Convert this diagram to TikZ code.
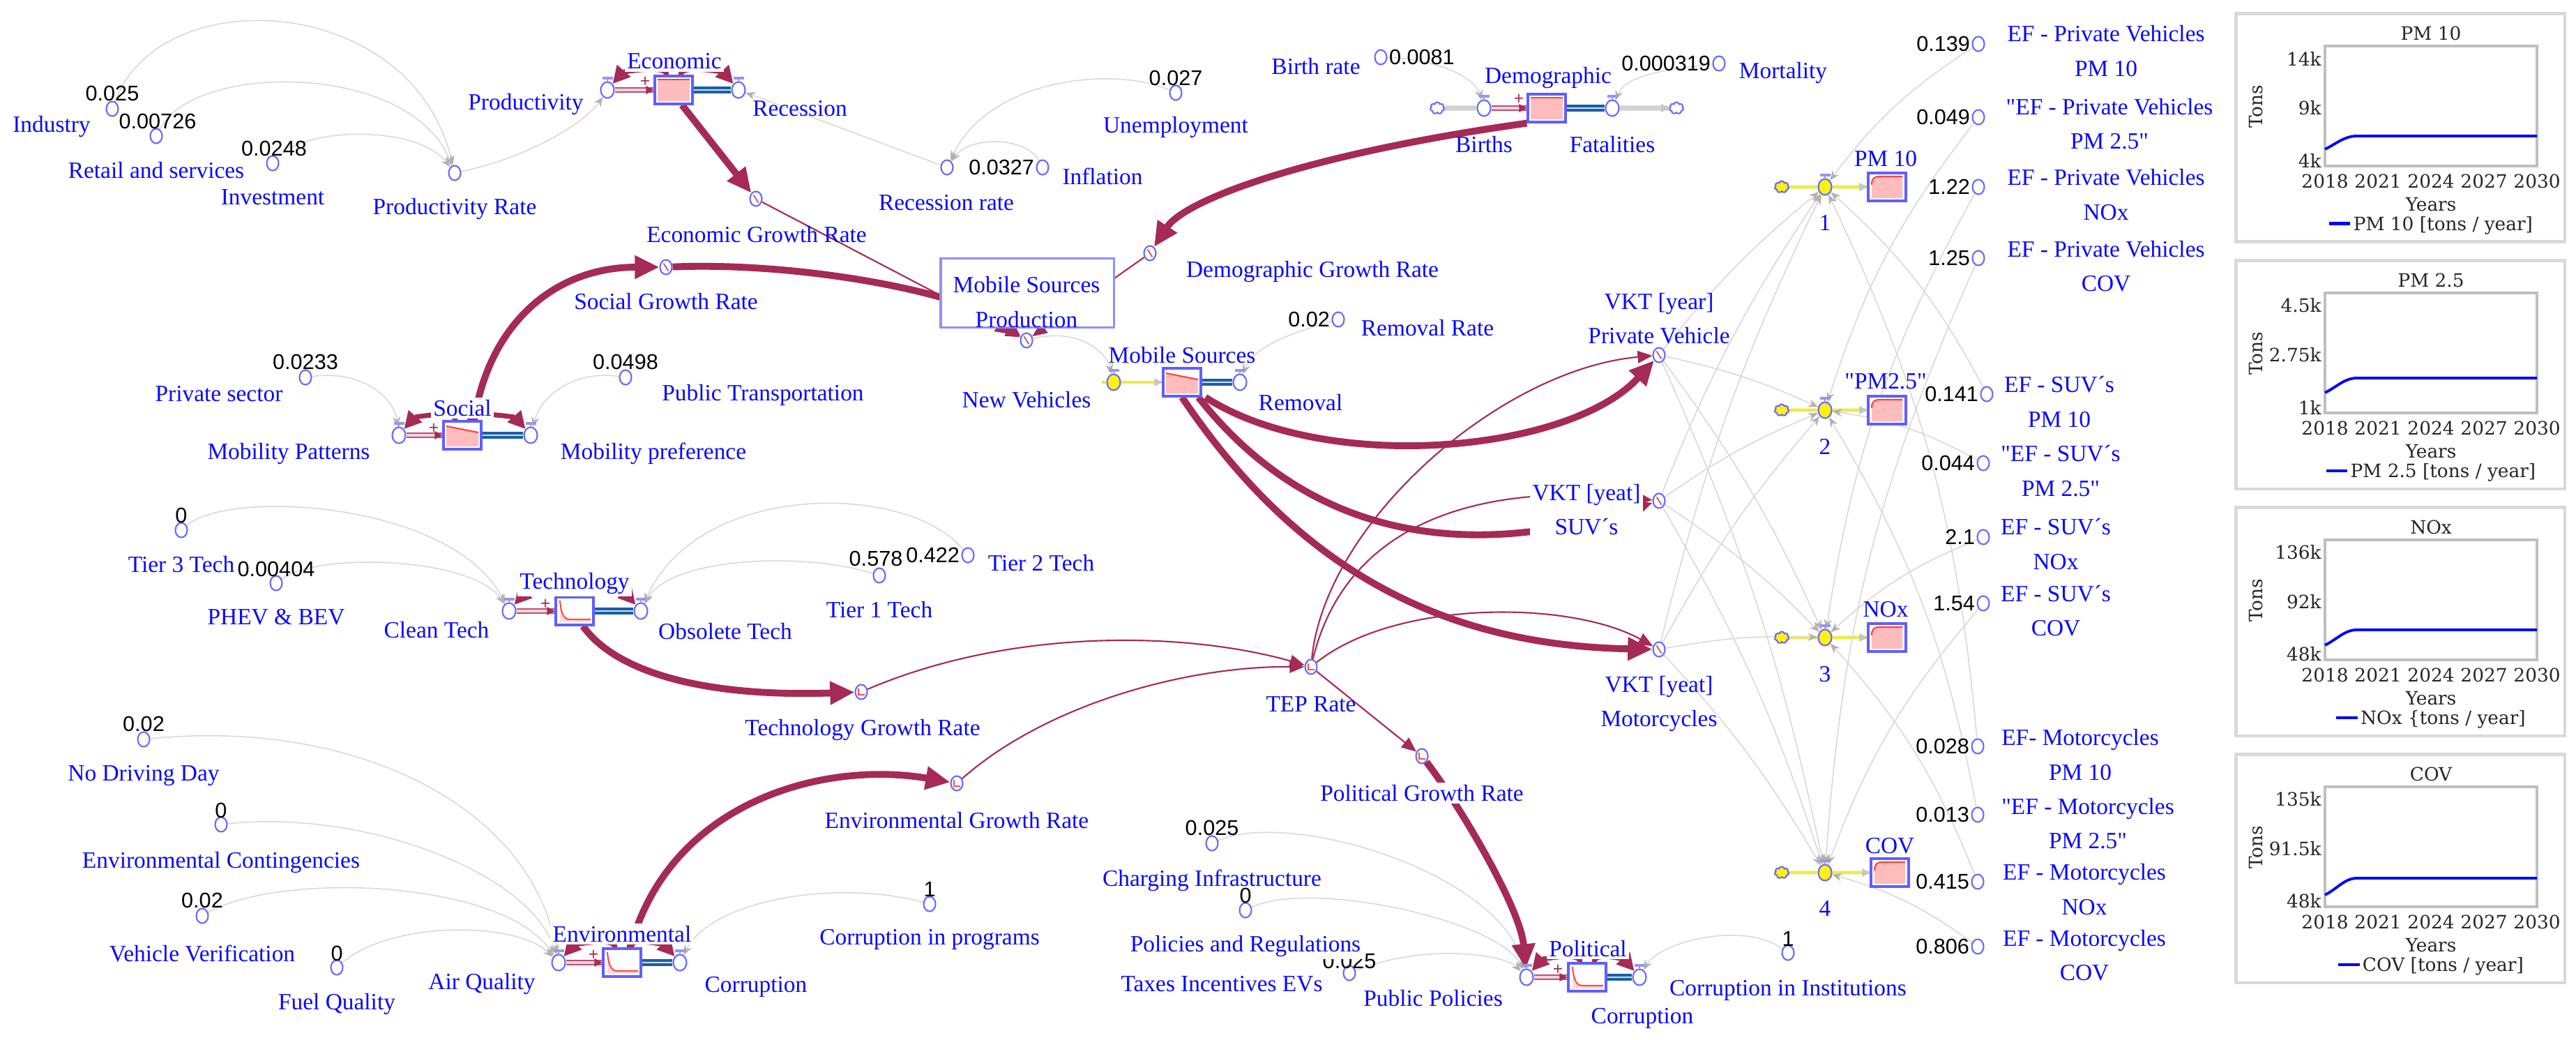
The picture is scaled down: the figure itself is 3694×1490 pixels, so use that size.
\documentclass[tikz,border=0pt]{standalone}
\usepackage{fontspec}
\setmainfont{Liberation Serif}
\newfontfamily\lblff{Liberation Serif}
\newfontfamily\numff{Liberation Sans}
\newfontfamily\chartff{DejaVu Serif}
\usetikzlibrary{arrows.meta,shapes.geometric,shapes.symbols,calc}
\pgfdeclarelayer{back}
\pgfdeclarelayer{bg}
\pgfsetlayers{back,bg,main}
\definecolor{convred}{RGB}{165,42,85}
\definecolor{lblblue}{RGB}{10,10,250}
\definecolor{auxblue}{RGB}{105,105,255}
\definecolor{stockpink}{RGB}{255,188,188}
\definecolor{stockborder}{RGB}{95,95,255}
\definecolor{pipeblue}{RGB}{25,95,165}
\definecolor{pipered}{RGB}{190,80,115}
\definecolor{yel}{RGB}{255,240,20}
\definecolor{ypipecol}{RGB}{235,235,70}
\definecolor{handlecol}{RGB}{150,150,235}
\tikzset{
 lbl/.style={text=lblblue, font=\lblff\fontsize{9.5}{14}\selectfont, inner sep=1pt, align=center},
 lblw/.style={lbl, fill=white},
 num/.style={text=black, font=\numff\fontsize{8.7}{10}\selectfont, inner sep=0.5pt},
 auxnode/.style={ellipse, draw=auxblue, fill=white, line width=0.6pt, minimum width=0.17cm, minimum height=0.21cm, inner sep=0},
 valvenode/.style={ellipse, draw=auxblue, line width=0.6pt, minimum width=0.19cm, minimum height=0.23cm, inner sep=0},
 stockbox/.style={rectangle, draw=stockborder, line width=0.9pt, fill=white, minimum width=0.54cm, minimum height=0.40cm, inner sep=0},
 cloudsh/.style={cloud, cloud puffs=7, aspect=1.2, draw=auxblue, line width=0.6pt, minimum width=0.2cm, minimum height=0.17cm, inner sep=0},
 lnk/.style={draw=gray!30, line width=0.45pt, -{Stealth[length=4pt,width=3.2pt,color=gray!60]}},
 rthick/.style={draw=convred, line width=2.8pt, -{Triangle[length=10pt,width=9pt]}},
 rthin/.style={draw=convred, line width=0.6pt, -{Triangle[length=6pt,width=5pt]}},
 rfb/.style={draw=convred, line width=2pt, -{Triangle[length=7pt,width=7pt]}},
 inpipe/.style={draw=pipered, line width=0.6pt, double=pipered!25, double distance=0.9pt},
 outpipe/.style={draw=pipeblue, line width=1pt, double=pipeblue!20, double distance=0.8pt},
 ypipe/.style={draw=ypipecol, line width=1.3pt},
 plussign/.style={text=convred, font=\numff\fontsize{7}{7}\selectfont, inner sep=0},
 charttxt/.style={font=\chartff\fontsize{7.5}{9}\selectfont, text=black!85, inner sep=0.5pt},
}
\newcommand\mkvalve[4]{%
  \node[valvenode, fill=#4] (#1) at (#2,#3) {};
  \draw[handlecol, line width=0.6pt] (#1.north) -- ($(#1.north)+(0,0.03cm)$);
  \fill[handlecol] ($(#1.north)+(-0.075cm,0.025cm)$) rectangle ($(#1.north)+(0.075cm,0.06cm)$);
}
\newcommand\mkstock[4]{%
  \node[stockbox] (#1) at (#2,#3) {};
  \begin{scope}[shift={(#2,#3)}]
  \ifcase#4\relax
    \fill[stockpink] (-23,-15) rectangle (23,16);
    \draw[red!75, line width=0.7pt] (-23,-15) -- (23,-15);
  \or
    \fill[stockpink] (-23,-13) -- (23,-4) -- (23,16) -- (-23,16) -- cycle;
    \draw[red!75, line width=0.6pt] (-23,-13) -- (23,-4);
  \or
    \fill[stockpink!55] (-21,-15) .. controls (-19,8) and (-14,12) .. (-6,12) -- (23,12) -- (23,16) -- (-21,16) -- cycle;
    \draw[red!70, line width=0.6pt] (-21,-15) .. controls (-19,8) and (-14,12) .. (-6,12) -- (23,12);
  \else
    \fill[stockpink] (-22,-3) .. controls (-22,-13) and (-18,-15) .. (-10,-15) -- (22,-15) -- (22,16) -- (-22,16) -- cycle;
    \draw[red!75, line width=0.6pt] (-22,-3) .. controls (-22,-13) and (-18,-15) .. (-10,-15) -- (22,-15);
  \fi
  \end{scope}
}
\newcommand\sdInhead[2]{\fill[#2] (#1.west) -- ++(-0.11cm,0.06cm) -- ++(0,-0.12cm) -- cycle;}
\newcommand\sdFb[3]{%
  \draw[rfb] ([xshift=-0.1cm]#1.north) .. controls +(0,0.16cm) and +(0.14cm,0.16cm) .. (#2.north east);
  \draw[rfb] ([xshift=0.1cm]#1.north) .. controls +(0,0.16cm) and +(-0.14cm,0.16cm) .. (#3.north west);
}
\newcommand\mkchart[9]{%
  \node[draw=gray!30, line width=1.2pt, minimum width=4.71cm, minimum height=3.27cm, inner sep=0] (#1) at (3442,{#2+163}) {};
  \draw[gray!50, line width=1pt] (3334,{#2+46}) rectangle (3638,{#2+218});
  \node[charttxt] (#1t) at (3486,{#2+28}) {#3};
  \node[charttxt, anchor=east] (#1a) at (3331,{#2+64}) {#4};
  \node[charttxt, anchor=east] (#1b) at (3331,{#2+135}) {#5};
  \node[charttxt, anchor=east] (#1c) at (3331,{#2+210}) {#6};
  \foreach \k/\yr in {0/2018,1/2021,2/2024,3/2027,4/2030}
    \node[charttxt] (#1y\k) at ({3334+76*\k},{#2+240}) {\yr};
  \node[charttxt] (#1x) at (3486,{#2+273}) {Years};
  \node[charttxt, rotate=90] (#1v) at (3235,{#2+133}) {Tons};
  \node[charttxt] (#1l) at (3486,{#2+303}) {\textcolor{blue}{\rule[0.28em]{1.15em}{1.2pt}}\,#7};
  \draw[blue, line width=1.1pt] (3334,{#2+#8}) .. controls (3352,{#2+#8-9}) and (3362,{#2+#9}) .. (3380,{#2+#9}) -- (3638,{#2+#9});
}
\begin{document}
\begin{tikzpicture}[x=0.01cm, y=-0.01cm]
\useasboundingbox (0,0) rectangle (3694,1490);
\begin{pgfonlayer}{back}
\fill[white] (0,0) rectangle (3694,1490);
\end{pgfonlayer}

% ---------- Economic ----------
\mkstock{Estk}{966}{129}{0}
\mkvalve{Ev1}{871}{129}{white}
\mkvalve{Ev2}{1059}{129}{white}
\node[lblw] (tEcon) at (967,88) {Economic};
\node[plussign] (pE) at (925,117) {+};
\node[lbl] (tProd) at (754,150) {Productivity};
\node[lbl] (tRec) at (1147,156) {Recession};
\node[auxnode] (PR) at (652,248) {};
\node[lbl] (tPR) at (652,300) {Productivity Rate};
\node[auxnode] (aInd) at (161,156) {};
\node[num] (nInd) at (161,134) {0.025};
\node[lbl] (tInd) at (74,182) {Industry};
\node[auxnode] (aRet) at (224,195) {};
\node[num] (nRet) at (226,174) {0.00726};
\node[lbl] (tRet) at (224,244) {Retail and services};
\node[auxnode] (aInv) at (391,234) {};
\node[num] (nInv) at (393,213) {0.0248};
\node[lbl] (tInv) at (391,283) {Investment};
\node[auxnode] (RR) at (1358,240) {};
\node[lbl] (tRR) at (1357,291) {Recession rate};
\node[auxnode] (aInfl) at (1495,240) {};
\node[num, anchor=east] (nInfl) at (aInfl.west) {0.0327};
\node[lbl] (tInfl) at (1581,253) {Inflation};
\node[auxnode] (aUne) at (1686,133) {};
\node[num] (nUne) at (1686,112) {0.027};
\node[lbl] (tUne) at (1686,183) {Unemployment};
\node[auxnode] (EGR) at (1084,285) {};
\node[lbl] (tEGR) at (1085,336) {Economic Growth Rate};

% ---------- Demographic ----------
\mkstock{Dstk}{2218}{155}{0}
\mkvalve{Dv1}{2128}{155}{white}
\mkvalve{Dv2}{2312}{155}{white}
\node[cloudsh, fill=white] (Dc1) at (2061,155) {};
\node[cloudsh, fill=white] (Dc2) at (2404,155) {};
\node[lblw] (tDem) at (2220,112) {Demographic};
\node[plussign] (pD) at (2178,142) {+};
\node[lbl] (tBir) at (2128,207) {Births};
\node[lbl] (tFat) at (2312,207) {Fatalities};
\node[auxnode] (aBr) at (1980,82) {};
\node[num, anchor=west] (nBr) at (aBr.east) {0.0081};
\node[lbl] (tBr) at (1887,95) {Birth rate};
\node[auxnode] (aMo) at (2465,91) {};
\node[num, anchor=east] (nMo) at (aMo.west) {0.000319};
\node[lbl] (tMo) at (2557,105) {Mortality};
\node[auxnode] (DGR) at (1649,363) {};
\node[lbl] (tDGR) at (1882,390) {Demographic Growth Rate};

% ---------- Mobile sources ----------
\node[draw=stockborder!70, line width=0.9pt, fill=white, minimum width=2.48cm, minimum height=0.99cm, inner sep=0] (MSP) at (1473,420) {};
\node[lbl] (tMSP) at (1472,433) {Mobile Sources\\Production};
\node[auxnode] (NV) at (1472,488) {};
\node[lbl] (tNV) at (1472,573) {New Vehicles};
\mkstock{Mstk}{1695}{548}{1}
\mkvalve{Mv1}{1597}{548}{yel}
\mkvalve{Mv2}{1778}{548}{white}
\coordinate (Msrc) at (1580,548);
\node[lbl] (tMS) at (1695,509) {Mobile Sources};
\node[lbl] (tRem) at (1865,577) {Removal};
\node[auxnode] (aRem) at (1919,458) {};
\node[num, anchor=east] (nRem) at (aRem.west) {0.02};
\node[lbl] (tRemR) at (2047,470) {Removal Rate};

% ---------- Social ----------
\mkstock{Sstk}{663}{624}{1}
\mkvalve{Sv1}{572}{624}{white}
\mkvalve{Sv2}{761}{624}{white}
\node[lblw] (tSoc) at (663,585) {Social};
\node[plussign] (pS) at (622,614) {+};
\node[lbl] (tMP) at (414,650) {Mobility Patterns};
\node[lbl] (tMPr) at (937,650) {Mobility preference};
\node[auxnode] (aPS) at (438,541) {};
\node[num] (nPS) at (438,519) {0.0233};
\node[lbl] (tPS) at (314,565) {Private sector};
\node[auxnode] (aPT) at (897,541) {};
\node[num] (nPT) at (897,519) {0.0498};
\node[lbl] (tPT) at (1094,566) {Public Transportation};
\node[auxnode] (SGR) at (955,383) {};
\node[lbl] (tSGR) at (955,432) {Social Growth Rate};

% ---------- Technology ----------
\mkstock{Tstk}{824}{876}{2}
\mkvalve{Tv1}{730}{876}{white}
\mkvalve{Tv2}{919}{876}{white}
\node[lblw] (tTec) at (824,836) {Technology};
\node[plussign] (pT) at (782,866) {+};
\node[lbl] (tCT) at (626,903) {Clean Tech};
\node[lbl] (tOT) at (1040,905) {Obsolete Tech};
\node[auxnode] (aT3) at (260,760) {};
\node[num] (nT3) at (260,739) {0};
\node[lbl] (tT3) at (260,809) {Tier 3 Tech};
\node[auxnode] (aPH) at (396,836) {};
\node[num] (nPH) at (396,816) {0.00404};
\node[lbl] (tPH) at (396,885) {PHEV \& BEV};
\node[auxnode] (aT1) at (1261,825) {};
\node[num] (nT1) at (1256,801) {0.578};
\node[lbl] (tT1) at (1261,874) {Tier 1 Tech};
\node[auxnode] (aT2) at (1388,796) {};
\node[num, anchor=east] (nT2) at (aT2.west) {0.422};
\node[lbl] (tT2) at (1493,807) {Tier 2 Tech};
\node[auxnode] (TGR) at (1235,992) {};
\node[lbl] (tTGR) at (1237,1046) {Technology Growth Rate};

% ---------- Environmental ----------
\mkstock{Enstk}{892}{1380}{2}
\mkvalve{Env1}{801}{1380}{white}
\mkvalve{Env2}{975}{1380}{white}
\node[lblw] (tEnv) at (892,1339) {Environmental};
\node[plussign] (pEn) at (851,1369) {+};
\node[lbl] (tAQ) at (691,1410) {Air Quality};
\node[lbl] (tCor1) at (1084,1415) {Corruption};
\node[auxnode] (aND) at (206,1060) {};
\node[num] (nND) at (206,1038) {0.02};
\node[lbl] (tND) at (206,1112) {No Driving Day};
\node[auxnode] (aEC) at (317,1182) {};
\node[num] (nEC) at (317,1162) {0};
\node[lbl] (tEC) at (317,1236) {Environmental Contingencies};
\node[auxnode] (aVV) at (290,1313) {};
\node[num] (nVV) at (290,1291) {0.02};
\node[lbl] (tVV) at (290,1367) {Vehicle Verification};
\node[auxnode] (aFQ) at (483,1387) {};
\node[num] (nFQ) at (483,1367) {0};
\node[lbl] (tFQ) at (483,1439) {Fuel Quality};
\node[auxnode] (aCP) at (1333,1296) {};
\node[num] (nCP) at (1333,1275) {1};
\node[lbl] (tCP) at (1333,1347) {Corruption in programs};
\node[auxnode] (ENGR) at (1372,1123) {};
\node[lbl] (tENGR) at (1372,1176) {Environmental Growth Rate};

% ---------- Political ----------
\mkstock{Pstk}{2276}{1401}{2}
\mkvalve{Pv1}{2189}{1401}{white}
\mkvalve{Pv2}{2351}{1401}{white}
\node[lblw] (tPol) at (2277,1360) {Political};
\node[plussign] (pP) at (2234,1390) {+};
\node[lbl] (tPP) at (2055,1431) {Public Policies};
\node[lbl] (tCor2) at (2355,1460) {Corruption};
\node[auxnode] (aCI) at (2564,1366) {};
\node[num] (nCI) at (2564,1346) {1};
\node[lbl] (tCI) at (2564,1420) {Corruption in Institutions};
\node[auxnode] (aCh) at (1738,1209) {};
\node[num] (nCh) at (1738,1187) {0.025};
\node[lbl] (tCh) at (1738,1262) {Charging Infrastructure};
\node[auxnode] (aPoR) at (1786,1305) {};
\node[num] (nPoR) at (1786,1284) {0};
\node[auxnode] (aTax) at (1935,1395) {};
\node[num] (nTax) at (1935,1378) {0.025};
\node[lblw] (tPoR) at (1786,1356) {Policies and Regulations};
\node[lbl] (tTax) at (1752,1411) {Taxes Incentives EVs};
\node[auxnode] (PGR) at (2039,1084) {};
\node[lblw] (tPGR) at (2039,1137) {Political Growth Rate};
\node[auxnode] (TEP) at (1880,956) {};
\node[lbl] (tTEP) at (1880,1010) {TEP Rate};

% ---------- VKT ----------
\node[auxnode] (VKTp) at (2379,509) {};
\node[lbl] (tVKTp) at (2379,457) {VKT [year]\\Private Vehicle};
\node[auxnode] (VKTs) at (2379,718) {};
\node[lblw] (tVKTs) at (2275,731) {VKT [yeat]\\SUV´s};
\node[auxnode] (VKTm) at (2379,931) {};
\node[lbl] (tVKTm) at (2379,1009) {VKT [yeat]\\Motorcycles};

% ---------- Emission stocks ----------
\mkstock{PMa}{2706}{268}{3}
\mkvalve{Va}{2617}{268}{yel}
\node[cloudsh, fill=yel] (Ca) at (2555,268) {};
\node[lbl] (tPMa) at (2704,228) {PM 10};
\node[lbl] (kA) at (2617,319) {1};
\mkstock{PMb}{2706}{588}{3}
\mkvalve{Vb}{2617}{588}{yel}
\node[cloudsh, fill=yel] (Cb) at (2555,588) {};
\node[lbl] (tPMb) at (2704,547) {"PM2.5"};
\node[lbl] (kB) at (2617,640) {2};
\mkstock{NOx}{2706}{914}{3}
\mkvalve{Vc}{2617}{914}{yel}
\node[cloudsh, fill=yel] (Cc) at (2555,914) {};
\node[lbl] (tNOx) at (2704,874) {NOx};
\node[lbl] (kC) at (2617,967) {3};
\mkstock{COV}{2710}{1251}{3}
\mkvalve{Vd}{2617}{1251}{yel}
\node[cloudsh, fill=yel] (Cd) at (2555,1251) {};
\node[lbl] (tCOV) at (2710,1213) {COV};
\node[lbl] (kD) at (2617,1302) {4};

% ---------- Emission factors ----------
\node[auxnode] (aPV1) at (2837,63) {};
\node[num, anchor=east] (nPV1) at (aPV1.west) {0.139};
\node[lbl] (tPV1) at (3020,73) {EF - Private Vehicles\\PM 10};
\node[auxnode] (aPV2) at (2837,168) {};
\node[num, anchor=east] (nPV2) at (aPV2.west) {0.049};
\node[lbl] (tPV2) at (3025,178) {"EF - Private Vehicles\\PM 2.5"};
\node[auxnode] (aPV3) at (2837,268) {};
\node[num, anchor=east] (nPV3) at (aPV3.west) {1.22};
\node[lbl] (tPV3) at (3020,279) {EF - Private Vehicles\\NOx};
\node[auxnode] (aPV4) at (2837,370) {};
\node[num, anchor=east] (nPV4) at (aPV4.west) {1.25};
\node[lbl] (tPV4) at (3020,382) {EF - Private Vehicles\\COV};
\node[auxnode] (aSV1) at (2849,565) {};
\node[num, anchor=east] (nSV1) at (aSV1.west) {0.141};
\node[lbl] (tSV1) at (2953,576) {EF - SUV´s\\PM 10};
\node[auxnode] (aSV2) at (2844,664) {};
\node[num, anchor=east] (nSV2) at (aSV2.west) {0.044};
\node[lbl] (tSV2) at (2955,675) {"EF - SUV´s\\PM 2.5"};
\node[auxnode] (aSV3) at (2844,770) {};
\node[num, anchor=east] (nSV3) at (aSV3.west) {2.1};
\node[lbl] (tSV3) at (2948,780) {EF - SUV´s\\NOx};
\node[auxnode] (aSV4) at (2844,865) {};
\node[num, anchor=east] (nSV4) at (aSV4.west) {1.54};
\node[lbl] (tSV4) at (2948,876) {EF - SUV´s\\COV};
\node[auxnode] (aMC1) at (2836,1070) {};
\node[num, anchor=east] (nMC1) at (aMC1.west) {0.028};
\node[lbl] (tMC1) at (2983,1082) {EF- Motorcycles\\PM 10};
\node[auxnode] (aMC2) at (2836,1168) {};
\node[num, anchor=east] (nMC2) at (aMC2.west) {0.013};
\node[lbl] (tMC2) at (2994,1181) {"EF - Motorcycles\\PM 2.5"};
\node[auxnode] (aMC3) at (2836,1264) {};
\node[num, anchor=east] (nMC3) at (aMC3.west) {0.415};
\node[lbl] (tMC3) at (2989,1275) {EF - Motorcycles\\NOx};
\node[auxnode] (aMC4) at (2836,1357) {};
\node[num, anchor=east] (nMC4) at (aMC4.west) {0.806};
\node[lbl] (tMC4) at (2989,1370) {EF - Motorcycles\\COV};

% ---------- Charts ----------
\mkchart{chA}{20}{PM 10}{14k}{9k}{4k}{PM 10 [tons / year]}{194}{175}
\mkchart{chB}{374}{PM 2.5}{4.5k}{2.75k}{1k}{PM 2.5 [tons / year]}{189}{168}
\mkchart{chC}{728}{NOx}{136k}{92k}{48k}{NOx \{tons / year]}{197}{175}
\mkchart{chD}{1082}{COV}{135k}{91.5k}{48k}{COV [tons / year]}{201}{177}

% ---------- marks inside auxiliaries ----------
\foreach \n in {EGR,SGR,DGR,NV,VKTp,VKTs,VKTm}
  \draw[convred!80, line width=0.5pt] ([shift={(-0.035cm,0.055cm)}]\n.center) -- ([shift={(0.035cm,-0.055cm)}]\n.center);
\foreach \n in {TGR,ENGR,TEP,PGR}
  \draw[red!70, line width=0.5pt] ([shift={(-0.04cm,0.05cm)}]\n.center) -- ([shift={(-0.04cm,-0.04cm)}]\n.center) -- ([shift={(0.05cm,-0.04cm)}]\n.center);

% inflow heads
\sdInhead{Estk}{convred}
\sdInhead{Dstk}{convred}
\sdInhead{Sstk}{convred}
\sdInhead{Tstk}{convred}
\sdInhead{Enstk}{convred}
\sdInhead{Pstk}{convred}
\sdInhead{Mstk}{gray!45}
\sdInhead{PMa}{gray!45}
\sdInhead{PMb}{gray!45}
\sdInhead{NOx}{gray!45}
\sdInhead{COV}{gray!45}
\sdInhead{Dc2}{gray!45}

% ---------- connectors (behind) ----------
\begin{pgfonlayer}{bg}
% pipes
\draw[inpipe] (Ev1) -- (Estk);
\draw[outpipe] (Estk) -- (Ev2);
\draw[gray!35, line width=2pt] (Dc1) -- (Dv1);
\draw[inpipe] (Dv1) -- (Dstk);
\draw[outpipe] (Dstk) -- (Dv2);
\draw[gray!35, line width=2pt] (Dv2) -- (Dc2);
\draw[ypipe] (Msrc) -- (Mv1) -- (Mstk);
\draw[outpipe] (Mstk) -- (Mv2);
\draw[inpipe] (Sv1) -- (Sstk);
\draw[outpipe] (Sstk) -- (Sv2);
\draw[inpipe] (Tv1) -- (Tstk);
\draw[outpipe] (Tstk) -- (Tv2);
\draw[inpipe] (Env1) -- (Enstk);
\draw[outpipe] (Enstk) -- (Env2);
\draw[inpipe] (Pv1) -- (Pstk);
\draw[outpipe] (Pstk) -- (Pv2);
\draw[ypipe] (Ca) -- (Va) -- (PMa);
\draw[ypipe] (Cb) -- (Vb) -- (PMb);
\draw[ypipe] (Cc) -- (Vc) -- (NOx);
\draw[ypipe] (Cd) -- (Vd) -- (COV);

% feedback arcs at stocks
\sdFb{Estk}{Ev1}{Ev2}
\sdFb{Sstk}{Sv1}{Sv2}
\sdFb{Tstk}{Tv1}{Tv2}
\sdFb{Enstk}{Env1}{Env2}
\sdFb{Pstk}{Pv1}{Pv2}

% grey information links
\draw[lnk] (aInd) .. controls (230,-30) and (590,-10) .. (PR);
\draw[lnk] (aRet) .. controls (280,87) and (590,90) .. (PR);
\draw[lnk] (aInv) .. controls (440,180) and (600,180) .. (PR);
\draw[lnk] (PR) .. controls (760,225) and (840,175) .. (Ev1);
\draw[lnk] (RR) -- (Ev2);
\draw[lnk] (aUne) .. controls (1600,95) and (1420,110) .. (RR);
\draw[lnk] (aInfl) .. controls (1470,195) and (1390,195) .. (RR);
\draw[lnk] (aBr) .. controls (2060,85) and (2115,110) .. (Dv1);
\draw[lnk] (aMo) .. controls (2380,100) and (2330,110) .. (Dv2);
\draw[lnk] (NV) .. controls (1540,470) and (1585,500) .. (Mv1);
\draw[lnk] (aRem) .. controls (1880,470) and (1800,490) .. (Mv2);
\draw[lnk] (aPS) .. controls (520,530) and (565,570) .. (Sv1);
\draw[lnk] (aPT) .. controls (820,530) and (775,570) .. (Sv2);
\draw[lnk] (aT3) .. controls (330,700) and (650,720) .. (Tv1);
\draw[lnk] (aPH) .. controls (460,790) and (680,800) .. (Tv1);
\draw[lnk] (aT1) .. controls (1150,790) and (960,800) .. (Tv2);
\draw[lnk] (aT2) .. controls (1300,690) and (1000,690) .. (Tv2);
\draw[lnk] (aND) .. controls (500,1030) and (760,1150) .. (Env1);
\draw[lnk] (aEC) .. controls (520,1160) and (760,1250) .. (Env1);
\draw[lnk] (aVV) .. controls (400,1250) and (720,1260) .. (Env1);
\draw[lnk] (aFQ) .. controls (560,1320) and (740,1320) .. (Env1);
\draw[lnk] (aCP) .. controls (1200,1260) and (1020,1290) .. (Env2);
\draw[lnk] (aCh) .. controls (1850,1160) and (2150,1250) .. (Pv1);
\draw[lnk] (aPoR) .. controls (1880,1260) and (2150,1320) .. (Pv1);
\draw[lnk] (aTax) .. controls (2050,1350) and (2160,1370) .. (Pv1);
\draw[lnk] (aCI) .. controls (2500,1320) and (2380,1350) .. (Pv2);
\foreach \v/\a/\b/\c in {Va/aPV1/aSV1/aMC1,Vb/aPV2/aSV2/aMC2,Vc/aPV3/aSV3/aMC3,Vd/aPV4/aSV4/aMC4}{
  \draw[lnk] (VKTp) to[bend left=6] (\v);
  \draw[lnk] (VKTs) to[bend left=6] (\v);
  \draw[lnk] (VKTm) to[bend left=6] (\v);
  \draw[lnk] (\a) to[bend right=10] (\v);
  \draw[lnk] (\b) to[bend right=10] (\v);
  \draw[lnk] (\c) to[bend right=10] (\v);
}

% red causal links
\draw[rthick] ([xshift=0.12cm]Estk.south) -- (EGR);
\draw[rthick] ([xshift=0.17cm]Sstk.north) .. controls (700,470) and (790,383) .. (SGR);
\draw[rthick] (SGR) .. controls (1150,375) and (1380,420) .. (NV);
\draw[rthin] (EGR) -- (NV);
\draw[rthin] (DGR) -- (NV);
\draw[rthick] (Dstk.south west) .. controls (1880,220) and (1700,285) .. (DGR);
\draw[rthick] ([xshift=0.05cm]Mstk.south east) .. controls (1900,680) and (2250,650) .. (VKTp);
\draw[rthick] ([xshift=-0.05cm]Mstk.south east) .. controls (1900,800) and (2150,790) .. (VKTs);
\draw[rthick] (Mstk.south) .. controls (1850,800) and (2050,925) .. (VKTm);
\draw[rthick] ([xshift=0.12cm]Tstk.south) .. controls (880,960) and (1000,1000) .. (TGR);
\draw[rthick] ([xshift=0.12cm]Enstk.north) .. controls (960,1150) and (1180,1090) .. (ENGR);
\draw[rthick] (PGR) .. controls (2090,1150) and (2180,1300) .. (Pv1);
\draw[rthin] (TGR) .. controls (1450,900) and (1700,905) .. (TEP);
\draw[rthin] (ENGR) .. controls (1500,1010) and (1700,955) .. (TEP);
\draw[rthin] (TEP) -- (PGR);
\draw[rthin] (TEP) .. controls (1900,750) and (2150,530) .. (VKTp);
\draw[rthin] (TEP) .. controls (1930,750) and (2120,690) .. (VKTs);
\draw[rthin] (TEP) .. controls (2000,860) and (2250,860) .. (VKTm);
\end{pgfonlayer}
\end{tikzpicture}
\end{document}
